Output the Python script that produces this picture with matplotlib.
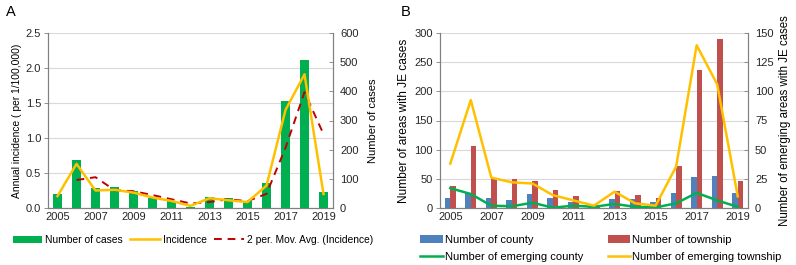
import matplotlib
matplotlib.use("Agg")
import matplotlib.pyplot as plt
import numpy as np
import pandas as pd

plt.rcParams['font.family'] = ['Liberation Sans', 'DejaVu Sans']

years = list(range(2005, 2020))
cases = [47, 166, 68, 72, 58, 36, 24, 5, 38, 33, 24, 86, 366, 506, 54]
incidence = [0.17, 0.63, 0.25, 0.26, 0.22, 0.15, 0.10, 0.03, 0.14, 0.11, 0.085, 0.32, 1.40, 1.91, 0.20]

county = [17, 25, 18, 14, 24, 17, 11, 3, 16, 15, 11, 26, 54, 55, 26]
township = [38, 107, 50, 49, 47, 31, 21, 5, 29, 23, 17, 72, 236, 290, 47]
emerging_county = [17, 12, 2, 1.5, 4.5, 0.3, 2, 1, 3.5, 1, 0.5, 4, 13, 6.5, 1]
emerging_township = [38, 92.5, 26, 22, 21, 11, 6.5, 2, 14, 4, 2, 35.5, 139.5, 106, 10]

mov_avg = pd.Series(incidence).rolling(2).mean().tolist()

GREEN = '#00B050'
YELLOW = '#FFC000'
DRED = '#C00000'
BLUE = '#4F81BD'
RED = '#C0504D'
GRID = '#D9D9D9'
SPINE = '#808080'
TFS = 8.0

W, H = 796, 265
fig = plt.figure(figsize=(W / 100, H / 100), dpi=100)

def style(ax, ax2):
    for a in (ax, ax2):
        a.spines['top'].set_visible(False)
        for s in ('left', 'right', 'bottom'):
            a.spines[s].set_color(SPINE)
            a.spines[s].set_linewidth(0.8)
        a.tick_params(labelsize=TFS, colors='#262626', length=3, width=0.6, color=SPINE, pad=2)
    ax2.tick_params(axis='y', direction='in', pad=5)
    ax.yaxis.grid(True, color=GRID, linewidth=0.8)
    ax.set_axisbelow(True)
    ax.tick_params(axis='x', length=0, pad=3)
    ax.set_xlim(2004.5, 2019.5)
    ax.set_xticks(years[::2])

# Panel A
axA = fig.add_axes([48 / W, 1 - 208 / H, 285 / W, 175 / H])
axA2 = axA.twinx()
bars = axA2.bar(years, cases, width=0.5, color=GREEN, label='Number of cases', zorder=1)
axA2.set_ylim(0, 600)
axA2.set_yticks(range(0, 601, 100))
axA.set_ylim(0, 2.5)
axA.set_yticks(np.arange(0, 2.51, 0.5))
axA.yaxis.set_major_formatter(matplotlib.ticker.FormatStrFormatter('%.1f'))
lA1, = axA2.plot(years, np.array(incidence) * 240, color=YELLOW, lw=1.8, label='Incidence', zorder=3)
lA2, = axA2.plot(years, np.array(mov_avg) * 240, color=DRED, lw=1.4, ls=(0, (4, 3)),
                 label='2 per. Mov. Avg. (Incidence)', zorder=2)
style(axA, axA2)
axA.set_ylabel('Annual incidence ( per 1/100,000)', fontsize=7.4, labelpad=3)
axA2.set_ylabel('Number of cases', fontsize=8.0, labelpad=7)
fig.text(6 / W, 1 - 12 / H, 'A', fontsize=10.5, va='center')
fig.legend(handles=[bars, lA1, lA2], loc='center', bbox_to_anchor=(193 / W, 1 - 240 / H),
           ncol=3, frameon=False, fontsize=7.4, handlelength=2.9, columnspacing=0.7,
           handletextpad=0.3, borderaxespad=0)

# Panel B
axB = fig.add_axes([440 / W, 1 - 208 / H, 308 / W, 175 / H])
axB2 = axB.twinx()
x = np.array(years)
bB1 = axB.bar(x - 0.135, county, width=0.27, color=BLUE, label='Number of county')
bB2 = axB.bar(x + 0.135, township, width=0.27, color=RED, label='Number of township')
axB.set_ylim(0, 300)
axB.set_yticks(range(0, 301, 50))
lB1, = axB2.plot(years, emerging_county, color=GREEN, lw=1.8, label='Number of emerging county')
lB2, = axB2.plot(years, emerging_township, color=YELLOW, lw=1.8, label='Number of emerging township')
axB2.set_ylim(0, 150)
axB2.set_yticks(range(0, 151, 25))
style(axB, axB2)
axB.set_ylabel('Number of areas with JE cases', fontsize=8.6, labelpad=3)
axB2.set_ylabel('Number of emerging areas with JE cases', fontsize=8.3, labelpad=4)
fig.text(401 / W, 1 - 12 / H, 'B', fontsize=10.5, va='center')
fig.legend(handles=[bB1, lB1, bB2, lB2], loc='center', bbox_to_anchor=(601 / W, 1 - 248.5 / H),
           ncol=2, frameon=False, fontsize=8.0, handlelength=2.0, columnspacing=2.2,
           handletextpad=0.2, borderaxespad=0, labelspacing=0.6)

fig.savefig('out.png', dpi=100)
